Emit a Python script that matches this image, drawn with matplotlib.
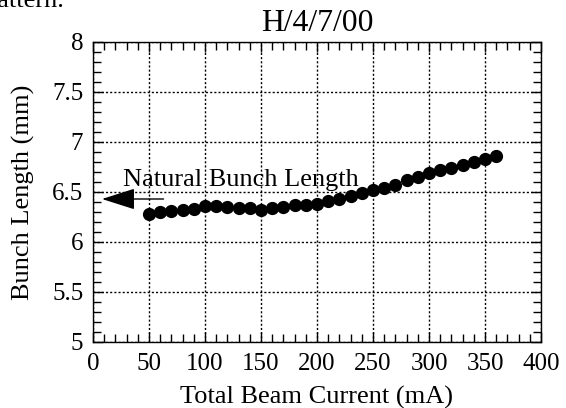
import matplotlib
matplotlib.use('Agg')
import matplotlib.pyplot as plt
import numpy as np
from matplotlib.ticker import MultipleLocator

# bunch length vs total beam current, H/4/7/00
current = [50, 60, 70, 80, 90, 100, 110, 120, 130, 140, 150, 160, 170, 180, 190, 200,
           210, 220, 230, 240, 250, 260, 270, 280, 290, 300, 310, 320, 330, 340, 350, 360]
bunch_len = [6.283, 6.296, 6.306, 6.316, 6.33, 6.356, 6.356, 6.35, 6.343, 6.336, 6.323, 6.34,
             6.35, 6.366, 6.372, 6.38, 6.41, 6.435, 6.46, 6.49, 6.52, 6.545, 6.575, 6.62,
             6.65, 6.695, 6.72, 6.745, 6.775, 6.80, 6.83, 6.865]

plt.rcParams['font.family'] = ['Liberation Serif', 'DejaVu Serif']
plt.rcParams['font.size'] = 19

fig = plt.figure(figsize=(5.66, 4.08), dpi=100)
ax = fig.add_axes([93/566, 1-342/408, (541-93)/566, (342-42)/408])

ax.plot(current, bunch_len, 'o', color='black', markersize=8.5)

ax.set_xlim(0, 400)
ax.set_ylim(5, 8)
ax.xaxis.set_major_locator(MultipleLocator(50))
ax.xaxis.set_minor_locator(MultipleLocator(10))
ax.yaxis.set_major_locator(MultipleLocator(0.5))
ax.yaxis.set_minor_locator(MultipleLocator(0.1))
ax.yaxis.set_major_formatter(plt.FuncFormatter(lambda v, p: '%g' % v))
ax.tick_params(which='both', direction='in', top=True, right=True, width=1, color='black',
               labelsize=18)
ax.tick_params(which='major', length=7)
ax.tick_params(axis='x', which='major', pad=8)
ax.tick_params(axis='y', which='major', pad=7)
ax.tick_params(which='minor', length=6)
ax.grid(True, which='major', linestyle=(0, (1.5, 1.5)), color='black', linewidth=1)
for s in ax.spines.values():
    s.set_linewidth(1)

ax.set_xlabel('Total Beam Current (mA)', labelpad=8)
ax.set_ylabel('Bunch Length (mm)', labelpad=12)
ax.set_title('H/4/7/00', pad=8)

ax.annotate('', xy=(8, 6.43), xytext=(63, 6.43),
            arrowprops=dict(arrowstyle='-|>,head_length=1.1,head_width=0.35',
                            color='black', lw=1, shrinkA=0, shrinkB=0))
ax.text(132, 6.56, 'Natural Bunch Length', ha='center', va='baseline')

# leftover of the page text above the figure
fig.text(-0.028, 0.983, 'pattern.', ha='left', va='baseline')

fig.savefig('out.png', dpi=100)
